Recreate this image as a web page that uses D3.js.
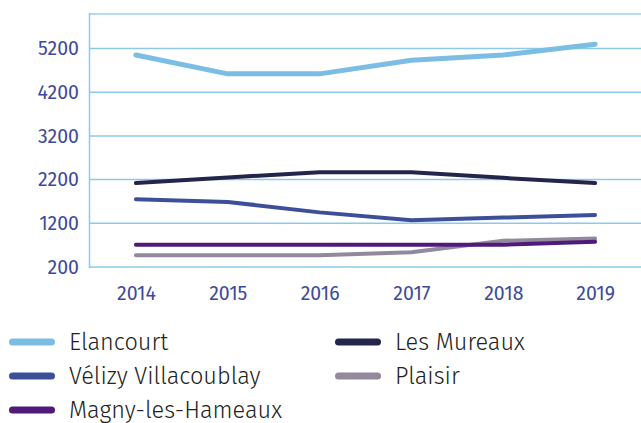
<!DOCTYPE html>
<html><head><meta charset="utf-8">
<script src="https://cdn.jsdelivr.net/npm/d3@7"></script>
<style>
body{margin:0;background:#fff;}
text{font-family:"Fira Sans","Open Sans",sans-serif;}
</style></head>
<body><svg id="c" width="641" height="423"></svg>
<script>
const years = ["2014","2015","2016","2017","2018","2019"];
const seriesNames = ["Elancourt","Les Mureaux","Vélizy Villacoublay","Plaisir","Magny-les-Hameaux"];
const elancourt = [5050,4620,4620,4930,5050,5300];
const lesMureaux = [2120,2250,2370,2370,2240,2120];
const velizy = [1750,1690,1450,1270,1330,1390];
const plaisir = [470,470,470,540,800,850];
const magny = [710,710,710,710,710,780];
const yTicks = [200,1200,2200,3200,4200,5200];
const colors = ["#7bbde3","#24254a","#3d4f99","#928a9c","#4f1a7a"];
const widths = [5,4,4,4,4];

const svg = d3.select("#c");
const x = d3.scalePoint().domain(years).range([90,641]).padding(0.5);
const y = d3.scaleLinear().domain([200,5990]).range([267,14]);

// grid
svg.append("g").selectAll("line").data(yTicks).join("line")
  .attr("x1",89).attr("x2",641).attr("y1",d=>y(d)).attr("y2",d=>y(d))
  .attr("stroke","#8ecae8").attr("stroke-width",1.5);
svg.append("line").attr("x1",89).attr("x2",641).attr("y1",y(5990)).attr("y2",y(5990))
  .attr("stroke","#b5dcef").attr("stroke-width",2);
svg.append("line").attr("x1",89.5).attr("x2",89.5).attr("y1",13).attr("y2",268)
  .attr("stroke","#8ecae8").attr("stroke-width",1.5);

const tickFont = '"Fira Sans","Open Sans",sans-serif';
// y axis labels
const yAxis = d3.axisLeft(y).tickValues(yTicks).tickSize(0).tickPadding(0).tickFormat(d3.format("d"));
const ga = svg.append("g").attr("transform","translate(79,0)").call(yAxis);
ga.select(".domain").remove();
ga.selectAll("text").attr("fill","#3d4a9a").style("font-size","19.5px").style("font-weight","400").style("font-family",tickFont);

const xAxis = d3.axisBottom(x).tickSize(0).tickPadding(0);
const gx = svg.append("g").attr("transform","translate(0,286)").call(xAxis);
gx.select(".domain").remove();
gx.selectAll("text").attr("fill","#3d4a9a").style("font-size","19.5px").style("font-weight","400").style("font-family",tickFont);

const data = [elancourt, lesMureaux, velizy, plaisir, magny];
const line = d3.line().x((d,i)=>x(years[i])).y(d=>y(d));
[0,1,2,3,4].forEach(k=>{
  svg.append("path").attr("d",line(data[k])).attr("fill","none")
    .attr("stroke",colors[k]).attr("stroke-width",widths[k])
    .attr("stroke-linecap","round").attr("stroke-linejoin","round");
});

// legend
const legendItems = [
  {n:0,x:9,y:342},{n:1,x:335,y:342},
  {n:2,x:9,y:376},{n:3,x:335,y:376},
  {n:4,x:9,y:410}
];
const lg = svg.append("g");
legendItems.forEach(it=>{
  lg.append("line").attr("x1",it.x+3.5).attr("x2",it.x+42.5).attr("y1",it.y).attr("y2",it.y)
    .attr("stroke",colors[it.n]).attr("stroke-width",7).attr("stroke-linecap","round");
  lg.append("text").attr("x",it.x+60).attr("y",it.y).attr("dy","0.35em")
    .attr("fill","#222").style("font-size","23.5px").style("font-weight","300")
    .text(seriesNames[it.n]);
});
</script></body></html>
